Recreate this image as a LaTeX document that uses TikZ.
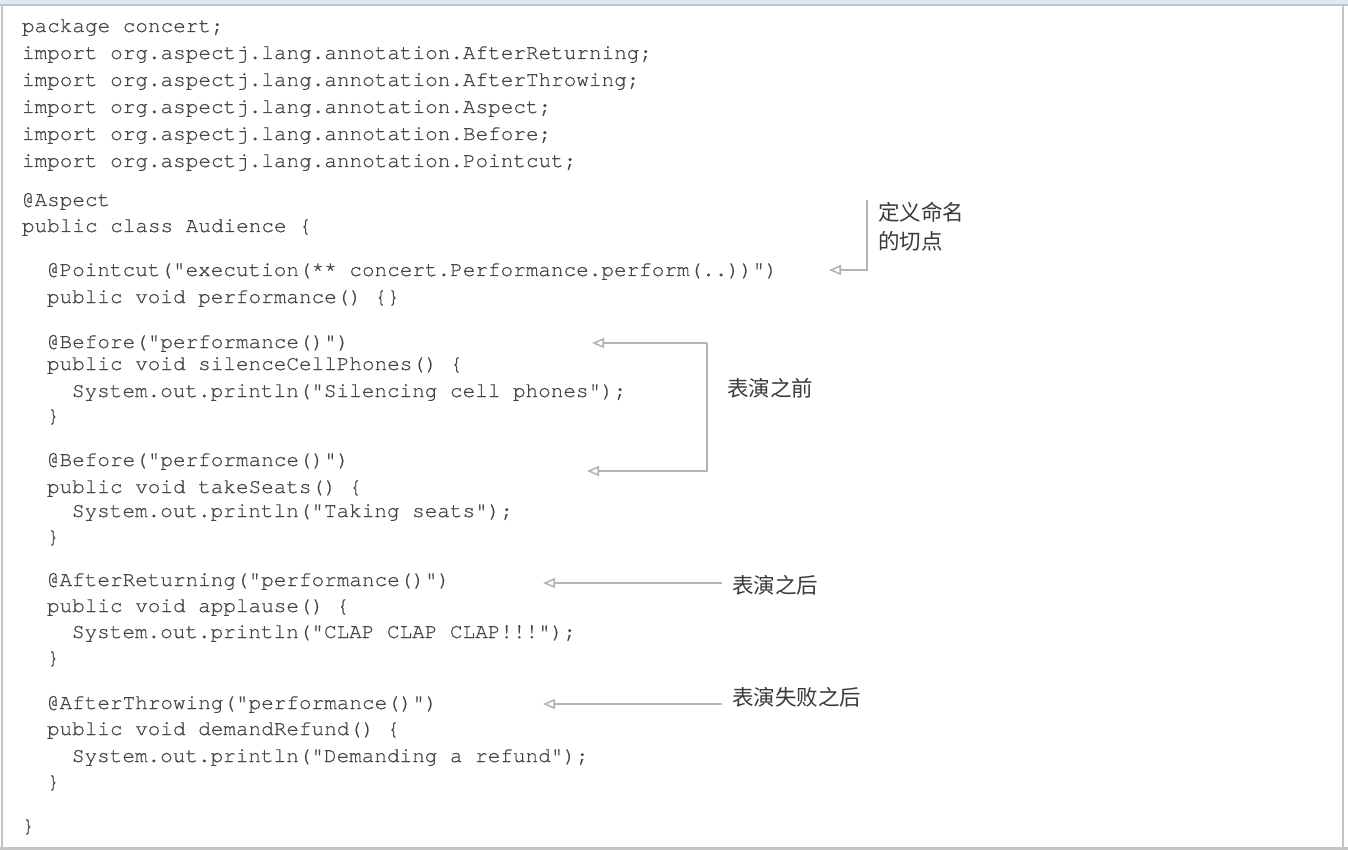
\documentclass[tikz,border=0pt]{standalone}
\usepackage{fontspec}
\setmonofont{TeX Gyre Cursor}[FakeBold=0.6]
\newfontfamily\cjk{Noto Sans CJK SC}
\usetikzlibrary{arrows.meta}
\definecolor{codegray}{HTML}{454545}
\definecolor{labelgray}{HTML}{3A3A3A}
\definecolor{linegray}{HTML}{B4B4B4}
\definecolor{framegray}{HTML}{C4C4C4}
\definecolor{topblue}{HTML}{DEE8F2}
\begin{document}
\begin{tikzpicture}[x=1pt,y=-1pt,
  code/.style={anchor=base west,inner sep=0pt,outer sep=0pt,font=\ttfamily\fontsize{21}{27}\selectfont,text=codegray},
  lab/.style={anchor=base west,inner sep=0pt,outer sep=0pt,font=\cjk\fontsize{21.5}{29}\selectfont,text=labelgray},
  arr/.style={draw=linegray,line width=1.6pt,-{Triangle[open,length=12pt,width=10pt]}}]
\useasboundingbox (0,0) rectangle (1348,850);
% frame
\fill[white] (0,0) rectangle (1348,850);
\fill[topblue] (0,0) rectangle (1348,4);
\fill[framegray] (0,4) rectangle (1348,5.7);
\fill[framegray] (1,4) rectangle (2.8,850);
\fill[framegray] (1341.7,4) rectangle (1344,850);
\fill[framegray] (0,846.5) rectangle (1348,850);
% code
\node[code] (l1)  at (22,32)  {package concert;};
\node[code] (l2)  at (22,59)  {import org.aspectj.lang.annotation.AfterReturning;};
\node[code] (l3)  at (22,86)  {import org.aspectj.lang.annotation.AfterThrowing;};
\node[code] (l4)  at (22,113) {import org.aspectj.lang.annotation.Aspect;};
\node[code] (l5)  at (22,140) {import org.aspectj.lang.annotation.Before;};
\node[code] (l6)  at (22,167) {import org.aspectj.lang.annotation.Pointcut;};
\node[code] (l7)  at (22,206) {@Aspect};
\node[code] (l8)  at (22,232) {public class Audience \{};
\node[code] (l9)  at (47,276) {@Pointcut("execution(** concert.Performance.perform(..))")};
\node[code] (l10) at (47,303) {public void performance() \{\}};
\node[code] (l11) at (47,348) {@Before("performance()")};
\node[code] (l12) at (47,370) {public void silenceCellPhones() \{};
\node[code] (l13) at (72,397) {System.out.println("Silencing cell phones");};
\node[code] (l14) at (47,422) {\}};
\node[code] (l15) at (47,466) {@Before("performance()")};
\node[code] (l16) at (47,493) {public void takeSeats() \{};
\node[code] (l17) at (72,517) {System.out.println("Taking seats");};
\node[code] (l18) at (47,543) {\}};
\node[code] (l19) at (47,586) {@AfterReturning("performance()")};
\node[code] (l20) at (47,612) {public void applause() \{};
\node[code] (l21) at (72,638) {System.out.println("CLAP CLAP CLAP!!!");};
\node[code] (l22) at (47,664) {\}};
\node[code] (l23) at (47,709) {@AfterThrowing("performance()")};
\node[code] (l24) at (47,735) {public void demandRefund() \{};
\node[code] (l25) at (72,762) {System.out.println("Demanding a refund");};
\node[code] (l26) at (47,788) {\}};
\node[code] (l27) at (22,832) {\}};
% labels
\node[lab] (la1) at (878,221) {定义命名};
\node[lab] (la2) at (878,250) {的切点};
\node[lab] (lb)  at (727,396) {表演之前};
\node[lab] (lc)  at (732,593) {表演之后};
\node[lab] (ld)  at (732,705) {表演失败之后};
% connector points
\coordinate (a0) at (867,200);
\coordinate (a1) at (867,270);
\coordinate (a2) at (829,270);
\coordinate (b0) at (707,343);
\coordinate (b1) at (592,343);
\coordinate (b2) at (707,471);
\coordinate (b3) at (587,471);
\coordinate (c0) at (722,583);
\coordinate (c1) at (543,583);
\coordinate (d0) at (722,704);
\coordinate (d1) at (543,704);
% connectors
\draw[arr] (a0) -- (a1) -- (a2);
\draw[arr] (b0) -- (b1);
\draw[arr] (b0) -- (b2) -- (b3);
\draw[arr] (c0) -- (c1);
\draw[arr] (d0) -- (d1);
\end{tikzpicture}
\end{document}
